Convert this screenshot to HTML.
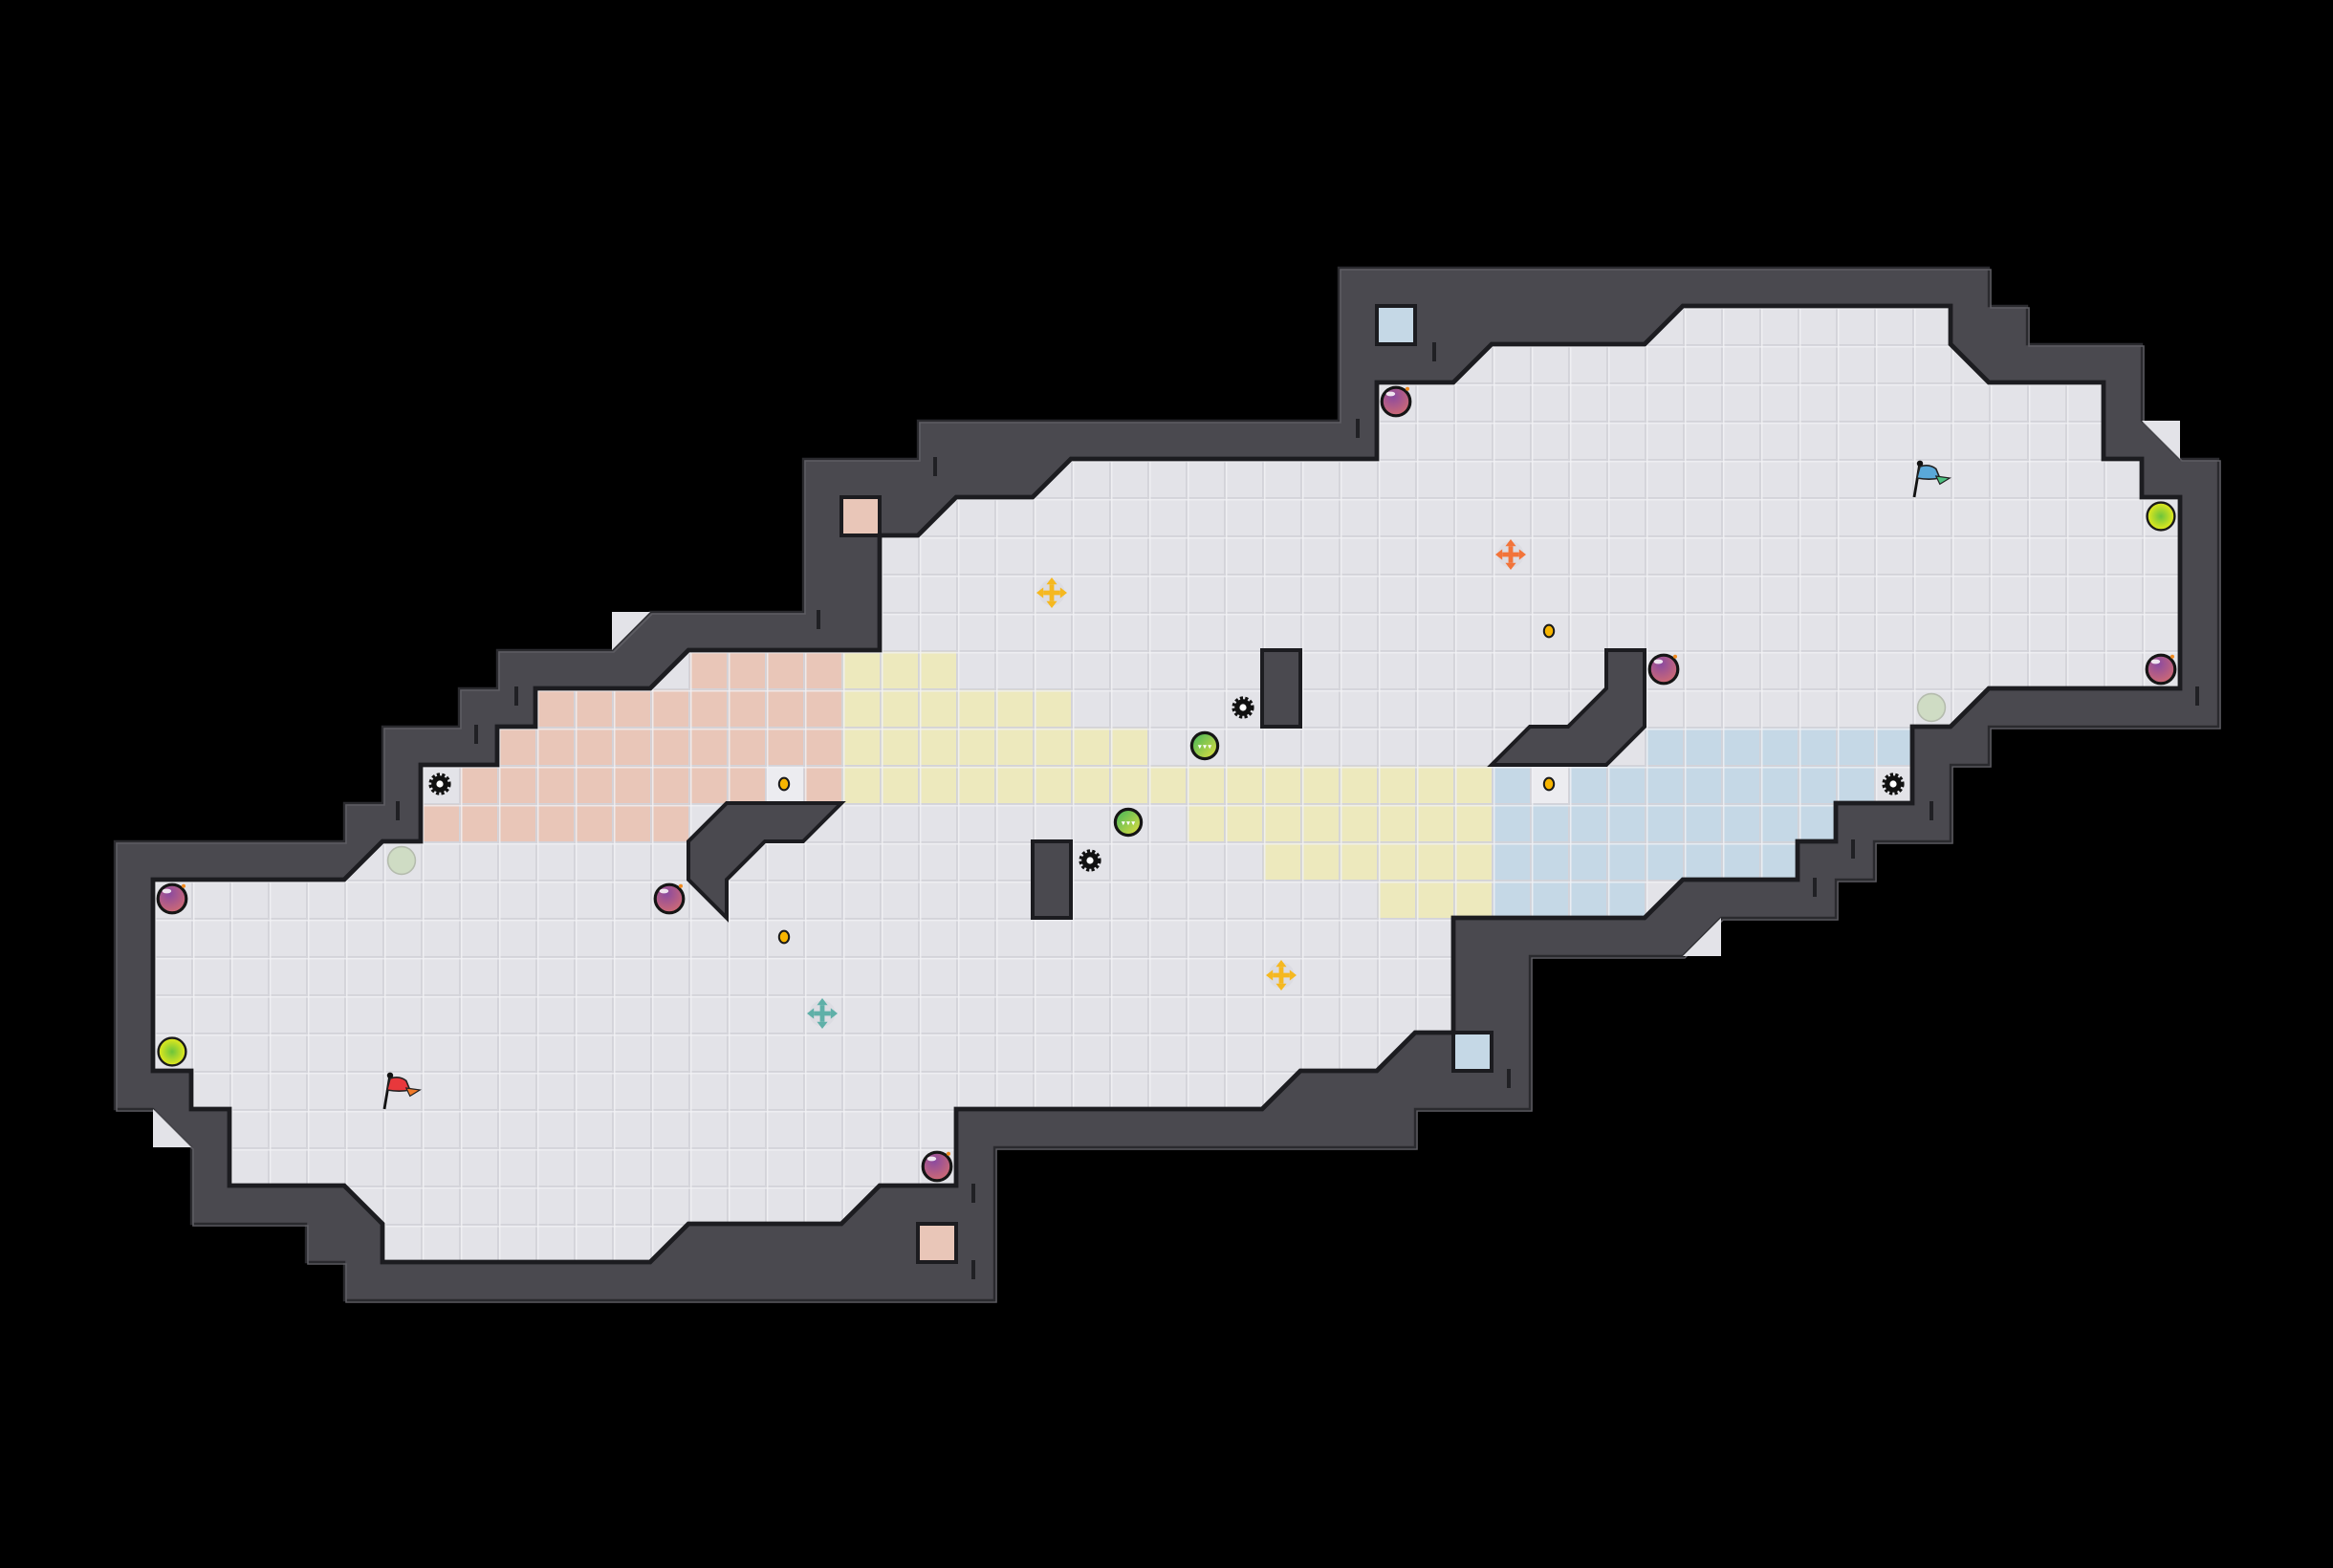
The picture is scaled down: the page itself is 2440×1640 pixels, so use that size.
<!DOCTYPE html>
<html><head><meta charset="utf-8"><style>html,body{margin:0;padding:0;background:#000;}svg{display:block;}</style></head>
<body>
<svg width="2440" height="1640" viewBox="0 0 2440 1640" xmlns="http://www.w3.org/2000/svg">
<defs>
<pattern id="grid" patternUnits="userSpaceOnUse" width="1" height="1">
<path d="M0,0.02H1M0.02,0V1" stroke="#d3d3d9" stroke-width="0.05" fill="none"/>
<path d="M0,0.07H1M0.07,0V1" stroke="#f2f2f5" stroke-width="0.03" fill="none"/>
</pattern>
<radialGradient id="bomb" cx="0.4" cy="0.3" r="0.8"><stop offset="0" stop-color="#8a4aa0"/><stop offset="1" stop-color="#d86e6e"/></radialGradient>
<radialGradient id="yg" cx="0.5" cy="0.5" r="0.5"><stop offset="0" stop-color="#6cc43c"/><stop offset="1" stop-color="#e6ea1c"/></radialGradient>
<linearGradient id="gs" x1="0" y1="0" x2="1" y2="1"><stop offset="0" stop-color="#3cb45a"/><stop offset="1" stop-color="#e8e040"/></linearGradient>
<g id="b"><circle r="0.37" fill="url(#bomb)" stroke="#151515" stroke-width="0.08"/><ellipse cx="-0.14" cy="-0.2" rx="0.12" ry="0.06" fill="#fff" opacity="0.85"/><circle cx="0.3" cy="-0.33" r="0.05" fill="#f08a20"/></g>
<g id="y"><circle r="0.36" fill="url(#yg)" stroke="#1a1a1a" stroke-width="0.06"/></g>
<g id="p"><circle r="0.36" fill="#cfdcc4" stroke="#b5bcae" stroke-width="0.04"/></g>
<g id="s"><circle r="0.34" fill="url(#gs)" stroke="#151515" stroke-width="0.08"/><path d="M-0.18,-0.02h0.1l-0.05,0.1zM-0.05,-0.02h0.1l-0.05,0.1zM0.08,-0.02h0.1l-0.05,0.1z" fill="#fff"/></g>
<g id="g"><circle r="0.22" fill="#111" stroke="#111" stroke-width="0.14" stroke-dasharray="0.07 0.05"/><circle r="0.09" fill="#fff"/></g>
<g id="d"><ellipse rx="0.13" ry="0.16" fill="#f7b500" stroke="#1a1a1a" stroke-width="0.05"/></g>
<g id="xh"><circle r="0.34" fill="#dcdce2" stroke="none"/><path d="M-0.22,0H0.22M0,-0.22V0.22" fill="none" stroke-width="0.12"/><path d="M-0.4,0l0.18,-0.14v0.28zM0.4,0l-0.18,-0.14v0.28zM0,-0.4l-0.14,0.18h0.28zM0,0.4l-0.14,-0.18h0.28z" stroke="none"/></g>
</defs>
<rect width="2440" height="1640" fill="#000"/>
<g transform="scale(40)">
<polygon points="35,7 52,7 52,8 53,8 53,9 56,9 56,11 57,12 58,12 58,19 52,19 52,20 51,20 51,22 49,22 49,23 48,23 48,24 45,24 44,25 40,25 40,29 37,29 37,30 26,30 26,34 9,34 9,33 8,33 8,32 5,32 5,30 4,29 3,29 3,22 9,22 9,21 10,21 10,19 12,19 12,18 13,18 13,17 16,17 17,16 21,16 21,12 24,12 24,11 35,11" fill="#4a494f" stroke="#2a2a2e" stroke-width="0.06" stroke-linejoin="miter"/>
<polygon points="35,7 52,7 52,8 53,8 53,9 56,9 56,11 57,12 58,12 58,19 52,19 52,20 51,20 51,22 49,22 49,23 48,23 48,24 45,24 44,25 40,25 40,29 37,29 37,30 26,30 26,34 9,34 9,33 8,33 8,32 5,32 5,30 4,29 3,29 3,22 9,22 9,21 10,21 10,19 12,19 12,18 13,18 13,17 16,17 17,16 21,16 21,12 24,12 24,11 35,11" fill="none" stroke="#5d5c62" stroke-width="0.04" transform="translate(0.05,0.05)"/>
<g fill="#e3e3e8"><polygon points="16,16 17,16 16,17"/><polygon points="56,11 57,11 57,12"/><polygon points="4,29 5,30 4,30"/><polygon points="45,24 45,25 44,25"/></g>
<g fill="#202024">
<rect x="24.4" y="11.95" width="0.1" height="0.5"/><rect x="21.35" y="15.95" width="0.1" height="0.5"/><rect x="13.45" y="17.95" width="0.1" height="0.5"/><rect x="12.4" y="18.95" width="0.1" height="0.5"/><rect x="10.35" y="20.95" width="0.1" height="0.5"/><rect x="37.45" y="8.95" width="0.1" height="0.5"/><rect x="35.45" y="10.95" width="0.1" height="0.5"/><rect x="50.45" y="20.95" width="0.1" height="0.5"/><rect x="48.4" y="21.95" width="0.1" height="0.5"/><rect x="47.4" y="22.95" width="0.1" height="0.5"/><rect x="57.4" y="17.95" width="0.1" height="0.5"/><rect x="39.4" y="27.95" width="0.1" height="0.5"/><rect x="25.4" y="30.95" width="0.1" height="0.5"/><rect x="25.4" y="32.95" width="0.1" height="0.5"/>
</g>
<g stroke="#1c1c20" stroke-width="0.1">
<rect x="36" y="8" width="1" height="1" fill="#c5d8e6"/><rect x="38" y="27" width="1" height="1" fill="#c5d8e6"/>
<rect x="22" y="13" width="1" height="1" fill="#e9c6b8"/><rect x="24" y="32" width="1" height="1" fill="#e9c6b8"/>
</g>
<polygon points="43,9 44,8 51,8 51,9 52,10 55,10 55,12 56,12 56,13 57,13 57,18 52,18 51,19 50,19 50,21 48,21 48,22 47,22 47,23 44,23 43,24 38,24 38,27 37,27 36,28 34,28 33,29 25,29 25,31 23,31 22,32 18,32 17,33 10,33 10,32 9,31 6,31 6,29 5,29 5,28 4,28 4,23 9,23 10,22 11,22 11,20 13,20 13,19 14,19 14,18 17,18 18,17 23,17 23,14 24,14 25,13 27,13 28,12 36,12 36,10 38,10 39,9" fill="#e3e3e8"/>
<g fill="#e9c6b8"><rect x="18" y="17" width="4" height="1"/><rect x="14" y="18" width="8" height="1"/><rect x="13" y="19" width="9" height="1"/><rect x="12" y="20" width="8" height="1"/><rect x="21" y="20" width="1" height="1"/><rect x="11" y="21" width="7" height="1"/></g>
<g fill="#ede9bd"><rect x="22" y="17" width="3" height="1"/><rect x="22" y="18" width="6" height="1"/><rect x="22" y="19" width="8" height="1"/><rect x="22" y="20" width="17" height="1"/><rect x="31" y="21" width="8" height="1"/><rect x="33" y="22" width="6" height="1"/><rect x="36" y="23" width="3" height="1"/></g>
<g fill="#c5d8e6"><rect x="43" y="19" width="7" height="1"/><rect x="39" y="20" width="1" height="1"/><rect x="41" y="20" width="8" height="1"/><rect x="39" y="21" width="9" height="1"/><rect x="39" y="22" width="8" height="1"/><rect x="39" y="23" width="4" height="1"/></g>
<g fill="#ececf0"><rect x="20" y="20" width="1" height="1"/><rect x="40" y="20" width="1" height="1"/></g>
<polygon points="43,9 44,8 51,8 51,9 52,10 55,10 55,12 56,12 56,13 57,13 57,18 52,18 51,19 50,19 50,21 48,21 48,22 47,22 47,23 44,23 43,24 38,24 38,27 37,27 36,28 34,28 33,29 25,29 25,31 23,31 22,32 18,32 17,33 10,33 10,32 9,31 6,31 6,29 5,29 5,28 4,28 4,23 9,23 10,22 11,22 11,20 13,20 13,19 14,19 14,18 17,18 18,17 23,17 23,14 24,14 25,13 27,13 28,12 36,12 36,10 38,10 39,9" fill="url(#grid)" stroke="#1c1c20" stroke-width="0.12" stroke-linejoin="miter"/>
<g fill="#4a494f" stroke="#1c1c20" stroke-width="0.1" stroke-linejoin="miter">
<rect x="33" y="17" width="1" height="2"/>
<rect x="27" y="22" width="1" height="2"/>
<polygon points="19,21 22,21 21,22 20,22 19,23 19,24 18,23 18,22"/>
<polygon points="42,17 43,17 43,19 42,20 39,20 40,19 41,19 42,18"/>
</g>
<use href="#b" x="4.5" y="23.5"/><use href="#b" x="17.5" y="23.5"/><use href="#b" x="24.5" y="30.5"/><use href="#b" x="36.5" y="10.5"/><use href="#b" x="43.5" y="17.5"/><use href="#b" x="56.5" y="17.5"/>
<use href="#y" x="4.5" y="27.5"/><use href="#y" x="56.5" y="13.5"/>
<use href="#p" x="10.5" y="22.5"/><use href="#p" x="50.5" y="18.5"/>
<use href="#s" x="31.5" y="19.5"/><use href="#s" x="29.5" y="21.5"/>
<use href="#g" x="11.5" y="20.5"/><use href="#g" x="32.5" y="18.5"/><use href="#g" x="28.5" y="22.5"/><use href="#g" x="49.5" y="20.5"/>
<use href="#d" x="20.5" y="20.5"/><use href="#d" x="20.5" y="24.5"/><use href="#d" x="40.5" y="16.5"/><use href="#d" x="40.5" y="20.5"/>
<use href="#xh" x="27.5" y="15.5" fill="#f5b820" stroke="#f5b820"/>
<use href="#xh" x="39.5" y="14.5" fill="#f2743a" stroke="#f2743a"/>
<use href="#xh" x="33.5" y="25.5" fill="#f5b820" stroke="#f5b820"/>
<use href="#xh" x="21.5" y="26.5" fill="#5fb0a8" stroke="#5fb0a8"/>
<g transform="translate(10,28)"><path d="M0.05,1.0L0.2,0.1" stroke="#111" stroke-width="0.07"/><circle cx="0.2" cy="0.12" r="0.08" fill="#111"/><path d="M0.2,0.2Q0.45,0.12 0.62,0.26L0.72,0.5Q0.45,0.56 0.12,0.5Z" fill="#e8383c" stroke="#222" stroke-width="0.04"/><path d="M0.62,0.45L0.98,0.5L0.72,0.66Z" fill="#f07a2a" stroke="#222" stroke-width="0.03"/></g>
<g transform="translate(50,12)"><path d="M0.05,1.0L0.2,0.1" stroke="#111" stroke-width="0.07"/><circle cx="0.2" cy="0.12" r="0.08" fill="#111"/><path d="M0.2,0.2Q0.45,0.12 0.62,0.26L0.72,0.5Q0.45,0.56 0.12,0.5Z" fill="#5aa8d8" stroke="#222" stroke-width="0.04"/><path d="M0.62,0.45L0.98,0.5L0.72,0.66Z" fill="#4cc080" stroke="#222" stroke-width="0.03"/></g>
</g>
</svg>
</body></html>
